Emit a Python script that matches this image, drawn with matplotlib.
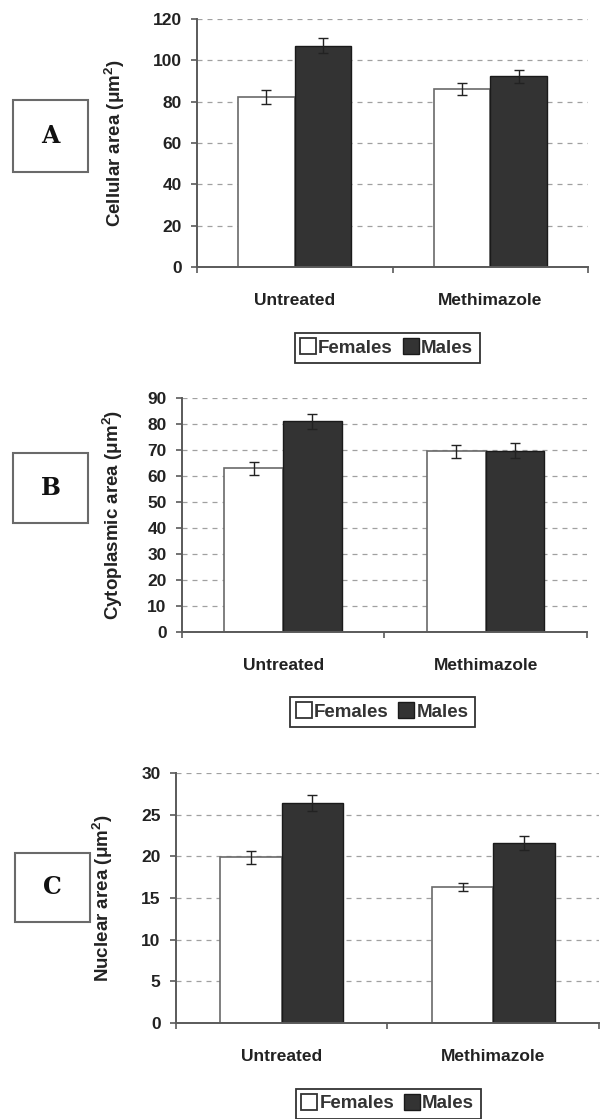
import numpy as np
import matplotlib
matplotlib.use("Agg")
import matplotlib.pyplot as plt
from matplotlib.patches import Rectangle
from matplotlib.lines import Line2D

plt.rcParams['font.family'] = ['Liberation Sans', 'DejaVu Sans']
plt.rcParams['mathtext.fontset'] = 'custom'
plt.rcParams['mathtext.rm'] = 'Liberation Sans:bold'
plt.rcParams['mathtext.it'] = 'Liberation Sans:bold'

groups = ['Untreated', 'Methimazole']
series = ['Females', 'Males']

# panel A: cellular area
cell_f = [82.3, 86.0]
cell_m = [107.0, 92.2]
cell_f_err = [3.2, 3.0]
cell_m_err = [3.6, 3.0]

# panel B: cytoplasmic area
cyto_f = [63.0, 69.6]
cyto_m = [81.0, 69.8]
cyto_f_err = [2.5, 2.5]
cyto_m_err = [3.0, 2.8]

# panel C: nuclear area
nuc_f = [19.9, 16.3]
nuc_m = [26.4, 21.6]
nuc_f_err = [0.8, 0.5]
nuc_m_err = [1.0, 0.8]

panels = [
    dict(letter='A', f=cell_f, m=cell_m, fe=cell_f_err, me=cell_m_err,
         ylabel=r'Cellular area ($\mu$m$^2$)', ymax=120, step=20,
         rect=[0.327, 0.7614, 0.650, 0.2216], box=(13, 100, 88, 172),
         leg=(0.643, 0.689), ylx=-0.179),
    dict(letter='B', f=cyto_f, m=cyto_m, fe=cyto_f_err, me=cyto_m_err,
         ylabel=r'Cytoplasmic area ($\mu$m$^2$)', ymax=90, step=10,
         rect=[0.302, 0.4352, 0.673, 0.2091], box=(13, 453, 88, 523),
         leg=(0.636, 0.3637), ylx=-0.141),
    dict(letter='C', f=nuc_f, m=nuc_m, fe=nuc_f_err, me=nuc_m_err,
         ylabel=r'Nuclear area ($\mu$m$^2$)', ymax=30, step=5,
         rect=[0.292, 0.0858, 0.703, 0.2234], box=(15, 853, 90, 922),
         leg=(0.645, 0.0135), ylx=-0.144),
]

W, H = 602, 1119
fig = plt.figure(figsize=(W / 100, H / 100), dpi=100)

x = np.arange(len(groups)) + 0.5
bw = 0.29
axis_col = '#5a5a5a'
txt_col = '#222222'

for p in panels:
    ax = fig.add_axes(p['rect'])
    ax.bar(x - bw / 2, p['f'], bw, color='white', edgecolor='#6a6a6a', linewidth=1.2, zorder=2)
    ax.bar(x + bw / 2, p['m'], bw, color='#333333', edgecolor='#1a1a1a', linewidth=1.0, zorder=2)
    ax.errorbar(x - bw / 2, p['f'], yerr=p['fe'], fmt='none', ecolor=txt_col,
                elinewidth=1.0, capsize=3.8, capthick=1.0, zorder=3)
    ax.errorbar(x + bw / 2, p['m'], yerr=p['me'], fmt='none', ecolor=txt_col,
                elinewidth=1.0, capsize=3.8, capthick=1.0, zorder=3)

    ax.set_xlim(0, 2)
    ax.set_ylim(0, p['ymax'])
    yt = np.arange(0, p['ymax'] + 1, p['step'])
    ax.set_yticks(yt)
    ax.set_yticklabels([str(v) for v in yt], fontsize=12.5, fontweight='bold', color=txt_col)
    for v in yt[1:]:
        ax.axhline(v, color='#a0a0a0', linestyle=(0, (4, 4)), linewidth=0.9, zorder=1)

    ax.set_xticks([0, 1, 2])
    ax.set_xticklabels([])
    ax.set_xticks(x, minor=True)
    ax.set_xticklabels(groups, minor=True, fontsize=12.5, fontweight='bold', color=txt_col)
    ax.tick_params(axis='x', which='minor', length=0, pad=19)
    ax.tick_params(axis='x', which='major', length=4, width=1.2, color=axis_col, direction='out')
    ax.tick_params(axis='y', length=4, width=1.2, color=axis_col, pad=7)

    for s in ['top', 'right']:
        ax.spines[s].set_visible(False)
    for s in ['left', 'bottom']:
        ax.spines[s].set_color(axis_col)
        ax.spines[s].set_linewidth(1.4)

    ax.set_ylabel(p['ylabel'], fontsize=13.5, fontweight='bold', color=txt_col)
    ax.yaxis.set_label_coords(p['ylx'], 0.5)

    handles = [
        Line2D([], [], marker='s', linestyle='none', markersize=11,
               markerfacecolor='white', markeredgecolor='#333333', markeredgewidth=1.3),
        Line2D([], [], marker='s', linestyle='none', markersize=11,
               markerfacecolor='#333333', markeredgecolor='#1a1a1a', markeredgewidth=1.0),
    ]
    leg = fig.legend(handles, series, loc='center', bbox_to_anchor=p['leg'], ncol=2,
                     frameon=True, fancybox=False, edgecolor='#333333', framealpha=1,
                     handlelength=0.7, handletextpad=0.2, columnspacing=0.6,
                     borderpad=0.35, borderaxespad=0, prop={'size': 13.5, 'weight': 'bold'})
    leg.get_frame().set_linewidth(1.3)
    for t in leg.get_texts():
        t.set_color('#333333')

    # letter box on the left
    x0, y0, x1, y1 = p['box']
    fig.patches.append(Rectangle((x0 / W, 1 - y1 / H), (x1 - x0) / W, (y1 - y0) / H,
                                 transform=fig.transFigure, fill=False,
                                 edgecolor='#6a6a6a', linewidth=1.5))
    fig.text((x0 + x1) / 2 / W, 1 - (y0 + y1) / 2 / H, p['letter'],
             ha='center', va='center', fontsize=17, fontweight='bold',
             family='DejaVu Serif', color='#111111')

fig.savefig('out.png', dpi=100)
